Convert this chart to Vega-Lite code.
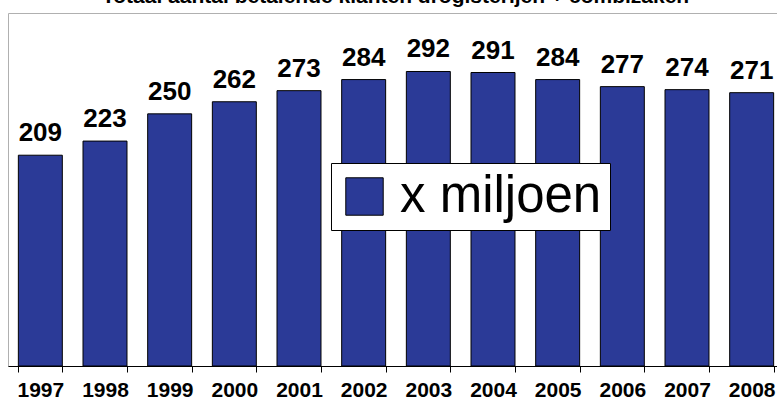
{
  "$schema": "https://vega.github.io/schema/vega-lite/v6.json",
  "autosize": {"type": "none"},
  "padding": {"left": 8, "top": 13, "right": 0, "bottom": 40},
  "width": 776,
  "height": 353,
  "background": "white",
  "title": {
    "text": "Totaal aantal betalende klanten drogisterijen + combizaken",
    "anchor": "start",
    "dx": 94,
    "offset": -11,
    "baseline": "alphabetic",
    "font": "Liberation Sans",
    "fontSize": 21,
    "fontWeight": "bold",
    "color": "black"
  },
  "config": {
    "view": {"stroke": "#b0b0b0", "strokeWidth": 1},
    "font": "Liberation Sans"
  },
  "data": {
    "values": [
      {"year": "1997", "value": 209, "series": "x miljoen"},
      {"year": "1998", "value": 223, "series": "x miljoen"},
      {"year": "1999", "value": 250, "series": "x miljoen"},
      {"year": "2000", "value": 262, "series": "x miljoen"},
      {"year": "2001", "value": 273, "series": "x miljoen"},
      {"year": "2002", "value": 284, "series": "x miljoen"},
      {"year": "2003", "value": 292, "series": "x miljoen"},
      {"year": "2004", "value": 291, "series": "x miljoen"},
      {"year": "2005", "value": 284, "series": "x miljoen"},
      {"year": "2006", "value": 277, "series": "x miljoen"},
      {"year": "2007", "value": 274, "series": "x miljoen"},
      {"year": "2008", "value": 271, "series": "x miljoen"}
    ]
  },
  "encoding": {
    "x": {
      "field": "year",
      "type": "ordinal",
      "scale": {"paddingInner": 0.32, "paddingOuter": 0.16},
      "axis": {
        "title": null,
        "labelAngle": 0,
        "labelFont": "Liberation Sans",
        "labelFontSize": 21,
        "labelFontWeight": "bold",
        "labelColor": "black",
        "labelPadding": 7,
        "tickBand": "extent",
        "tickSize": 6,
        "tickColor": "black",
        "domainColor": "black",
        "grid": false
      }
    },
    "y": {
      "field": "value",
      "type": "quantitative",
      "scale": {"domain": [0, 350], "nice": false},
      "axis": null
    }
  },
  "layer": [
    {
      "mark": {"type": "bar", "stroke": "black", "strokeWidth": 1},
      "encoding": {
        "color": {
          "field": "series",
          "type": "nominal",
          "scale": {"range": ["#2B3A97"]},
          "legend": {
            "title": null,
            "orient": "none",
            "legendX": 323,
            "legendY": 150,
            "fillColor": "white",
            "strokeColor": "black",
            "padding": 8,
            "symbolType": "square",
            "symbolSize": 1400,
            "symbolStrokeColor": "black",
            "symbolStrokeWidth": 1,
            "symbolOpacity": 1,
            "labelFont": "Liberation Sans",
            "labelFontSize": 51,
            "labelColor": "black",
            "labelOffset": 10,
            "labelLimit": 400
          }
        }
      }
    },
    {
      "mark": {
        "type": "text",
        "baseline": "alphabetic",
        "dy": -14,
        "font": "Liberation Sans",
        "fontSize": 26,
        "fontWeight": "bold",
        "color": "black"
      },
      "encoding": {"text": {"field": "value", "type": "quantitative"}}
    }
  ]
}
